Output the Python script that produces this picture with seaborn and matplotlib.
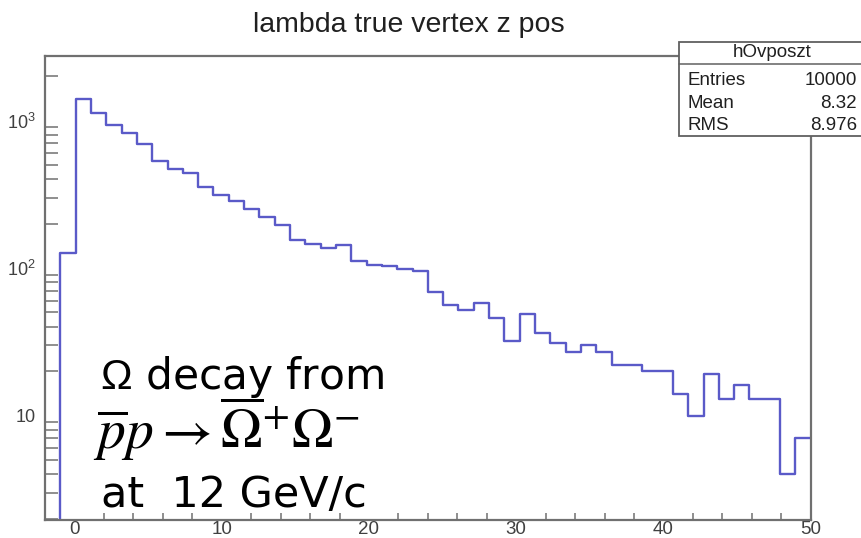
import numpy as np
import pandas as pd
import matplotlib
matplotlib.use("Agg")
import matplotlib.pyplot as plt
import seaborn as sns
from matplotlib.patches import Rectangle
from matplotlib.lines import Line2D
from matplotlib.ticker import LogLocator, NullFormatter, MultipleLocator

# ---- histogram content: 50 bins over z in [-2, 50] ----
z_low, z_high, n_bins = -2.0, 50.0, 50
counts = [0, 126, 1393, 1130, 937, 823, 693, 532, 471, 439,
          352, 312, 285, 250, 222, 196, 154, 146, 137, 143,
          112, 105, 104, 99, 95, 69, 56, 52, 58, 46,
          32, 49, 36, 31, 27, 30, 27, 22, 22, 20,
          20, 14, 10, 19, 13, 16, 13, 13, 4, 7]

x_ticks = [0, 10, 20, 30, 40, 50]
y_ticks = [10, 100, 1000]
y_tick_labels = ["10", r"$10^{2}$", r"$10^{3}$"]

title_text = "lambda true vertex z pos"
stats_name = "hOvposzt"
stats_rows = [("Entries", "10000"), ("Mean", "8.32"), ("RMS", "8.976")]

edges = np.linspace(z_low, z_high, n_bins + 1)
centers = 0.5 * (edges[:-1] + edges[1:])
df = pd.DataFrame({"z": centers, "n": counts})

sns.set_theme(style="white")
plt.rcParams["font.family"] = ["Liberation Sans", "DejaVu Sans"]
plt.rcParams["mathtext.fontset"] = "custom"
plt.rcParams["mathtext.rm"] = "Liberation Sans"

W, H = 862, 538
fig = plt.figure(figsize=(W / 100, H / 100), dpi=100)


def fx(px):
    return px / W


def fy(py):
    return 1 - py / H


ax_l, ax_r, ax_t, ax_b = 45, 810.7, 56, 520
ax = fig.add_axes([fx(ax_l), fy(ax_b), fx(ax_r) - fx(ax_l), fy(ax_t) - fy(ax_b)])

line_col = "#5a5ac8"
frame_col = "#707070"
label_col = "#404040"

sns.histplot(data=df, x="z", weights="n", bins=n_bins, binrange=(z_low, z_high),
             element="step", fill=False, color=line_col, linewidth=1.7, ax=ax)
ax.set_yscale("log")
ax.set_xlim(z_low, z_high)
ax.set_ylim(1.96, 2735)
ax.set_xlabel("")
ax.set_ylabel("")

for s in ax.spines.values():
    s.set_color(frame_col)
    s.set_linewidth(1.6)

ax.set_xticks(x_ticks)
ax.xaxis.set_minor_locator(MultipleLocator(2))
ax.set_yticks(y_ticks)
ax.set_yticklabels(y_tick_labels)
ax.yaxis.set_minor_locator(LogLocator(base=10, subs=range(2, 10)))
ax.yaxis.set_minor_formatter(NullFormatter())

ax.tick_params(axis="x", which="major", direction="in", length=10, width=1.3,
               color=frame_col, labelsize=13.5, labelcolor=label_col, pad=1)
ax.tick_params(axis="x", which="minor", direction="in", length=5, width=1.1,
               color=frame_col, bottom=True)
ax.tick_params(axis="y", which="major", direction="in", length=17, width=1.3,
               color=frame_col, labelsize=13, labelcolor=label_col, pad=7)
ax.tick_params(axis="y", which="minor", direction="in", length=9.5, width=1.1,
               color=frame_col, left=True)

# title
fig.text(fx(409), fy(31.7), title_text, ha="center", va="baseline",
         fontsize=20.5, color="#202020")

# statistics box
bx0, bx1, by0, by1, bhead = 679, 875, 41.7, 135.7, 64
fig.add_artist(Rectangle((fx(bx0), fy(by1)), fx(bx1) - fx(bx0), fy(by0) - fy(by1),
                         transform=fig.transFigure, facecolor="white",
                         edgecolor="#606060", linewidth=1.3, zorder=5))
fig.add_artist(Line2D([fx(bx0), fx(bx1)], [fy(bhead), fy(bhead)],
                      transform=fig.transFigure, color="#606060",
                      linewidth=1.1, zorder=6))
fig.text(fx(772), fy(52.5), stats_name, ha="center", va="center",
         fontsize=13.5, color="#202020", zorder=7)
for i, (k, v) in enumerate(stats_rows):
    yb = [85, 107.5, 130][i]
    fig.text(fx(688), fy(yb), k, ha="left", va="baseline",
             fontsize=13.5, color="#202020", zorder=7)
    fig.text(fx(857), fy(yb), v, ha="right", va="baseline",
             fontsize=13.5, color="#202020", zorder=7)

# process annotation
fig.text(fx(100), fy(389), r"$\Omega$ decay from", ha="left", va="baseline",
         fontsize=30.5, color="black", family=["DejaVu Sans"])
fig.text(fx(93), fy(449),
         r"$\overline{p}p \rightarrow \overline{\Omega}^{+}\Omega^{-}$",
         ha="left", va="baseline", fontsize=40, color="black",
         math_fontfamily="stix")
fig.text(fx(101), fy(507), "at  12 GeV/c", ha="left", va="baseline",
         fontsize=31, color="black", family=["DejaVu Sans"])

fig.savefig("out.png", dpi=100)
